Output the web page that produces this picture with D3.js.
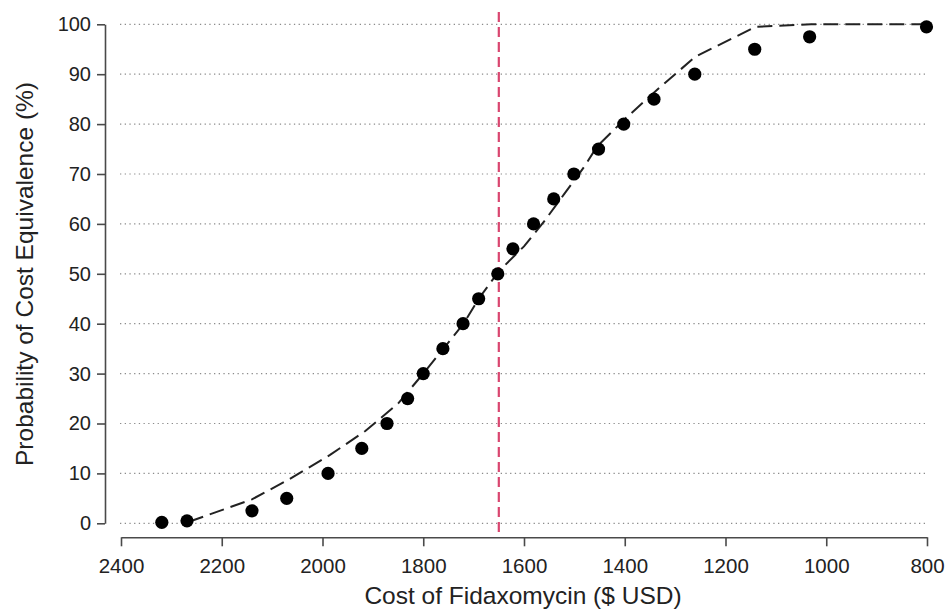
<!DOCTYPE html>
<html>
<head>
<meta charset="utf-8">
<script src="https://cdn.jsdelivr.net/npm/d3@7"></script>
<style>
  html, body { margin: 0; padding: 0; background: #fff; }
  svg { display: block; font-family: "Liberation Sans", Arial, sans-serif; }
</style>
</head>
<body>
<svg id="chart" width="946" height="610"></svg>
<script>
// Observed points: cost of fidaxomycin (USD) vs probability of cost equivalence (%)
const pointCost = [2319, 2269, 2140, 2071, 1989, 1922, 1872, 1831, 1800, 1761, 1721, 1690, 1652, 1622, 1581, 1541, 1501, 1452, 1402, 1342, 1261, 1142, 1033, 801];
const pointProb = [0.2, 0.5, 2.5, 5, 10, 15, 20, 25, 30, 35, 40, 45, 50, 55, 60, 65, 70, 75, 80, 85, 90, 95, 97.5, 99.5];

// Fitted (dashed) curve
const curveCost = [2265, 2140, 2070, 1985, 1915, 1850, 1800, 1760, 1720, 1690, 1650, 1600, 1560, 1520, 1480, 1455, 1400, 1340, 1260, 1140, 1030, 800];
const curveProb = [0.3, 4.8, 8.6, 13.7, 18.5, 24, 30, 35, 40, 45, 50.5, 55.5, 60.5, 66, 71.5, 75.5, 81, 86.5, 93.5, 99.5, 100, 100];

// Threshold cost (vertical reference line)
const thresholdCost = [1650];

const xTicks = [2400, 2200, 2000, 1800, 1600, 1400, 1200, 1000, 800];
const yTicks = [0, 10, 20, 30, 40, 50, 60, 70, 80, 90, 100];

const xTitle = "Cost of Fidaxomycin ($ USD)";
const yTitle = "Probability of Cost Equivalence (%)";

const svg = d3.select("#chart");
const x = d3.scaleLinear().domain([2400, 800]).range([121, 927]);
const y = d3.scaleLinear().domain([0, 100]).range([523.3, 24.3]);

const axisColor = "#4a4a4a";
const textColor = "#222";

// Gridlines
svg.append("g").selectAll("line").data(yTicks).join("line")
  .attr("x1", 120).attr("x2", 925)
  .attr("y1", d => y(d)).attr("y2", d => y(d))
  .attr("stroke", "#8c8c8c").attr("stroke-width", 1.2)
  .attr("stroke-dasharray", "1.3,3.4");

// Y axis
const yAxis = svg.append("g").attr("transform", "translate(105,0)")
  .call(d3.axisLeft(y).tickValues(yTicks).tickSize(8).tickPadding(6).tickSizeOuter(0));
yAxis.select(".domain").attr("stroke", axisColor).attr("stroke-width", 1.6);
yAxis.selectAll(".tick line").attr("stroke", axisColor).attr("stroke-width", 1.6);
yAxis.selectAll(".tick text").attr("font-size", 20).attr("fill", textColor)
  .attr("font-family", "Liberation Sans, Arial, sans-serif");

// X axis
const xAxis = svg.append("g").attr("transform", "translate(0,537.3)")
  .call(d3.axisBottom(x).tickValues(xTicks).tickFormat(d3.format("d")).tickSize(9).tickPadding(12).tickSizeOuter(0));
xAxis.select(".domain").attr("stroke", axisColor).attr("stroke-width", 1.6);
xAxis.selectAll(".tick line").attr("stroke", axisColor).attr("stroke-width", 1.6);
xAxis.selectAll(".tick text").attr("font-size", 20.5).attr("fill", textColor)
  .attr("font-family", "Liberation Sans, Arial, sans-serif");

// Threshold vertical red dashed line
svg.append("g").selectAll("line").data(thresholdCost).join("line")
  .attr("x1", d => x(d)).attr("x2", d => x(d))
  .attr("y1", 12).attr("y2", 536)
  .attr("stroke", "#d9466f").attr("stroke-width", 2.2)
  .attr("stroke-dasharray", "10,5");

// Dashed fitted curve
const curveData = curveCost.map((c, i) => [c, curveProb[i]]);
svg.append("path").datum(curveData)
  .attr("fill", "none").attr("stroke", "#222").attr("stroke-width", 2)
  .attr("stroke-dasharray", "15,7")
  .attr("d", d3.line().x(d => x(d[0])).y(d => y(d[1])));

// Points
const pts = pointCost.map((c, i) => [c, pointProb[i]]);
svg.append("g").selectAll("circle").data(pts).join("circle")
  .attr("cx", d => x(d[0])).attr("cy", d => y(d[1])).attr("r", 6.6)
  .attr("fill", "#000");

// Axis titles
svg.append("text").text(xTitle)
  .attr("x", 523).attr("y", 604).attr("text-anchor", "middle")
  .attr("font-size", 24.5).attr("fill", textColor);
svg.append("text").text(yTitle)
  .attr("transform", "translate(33,274) rotate(-90)").attr("text-anchor", "middle")
  .attr("font-size", 24.5).attr("fill", textColor);
</script>
</body>
</html>
